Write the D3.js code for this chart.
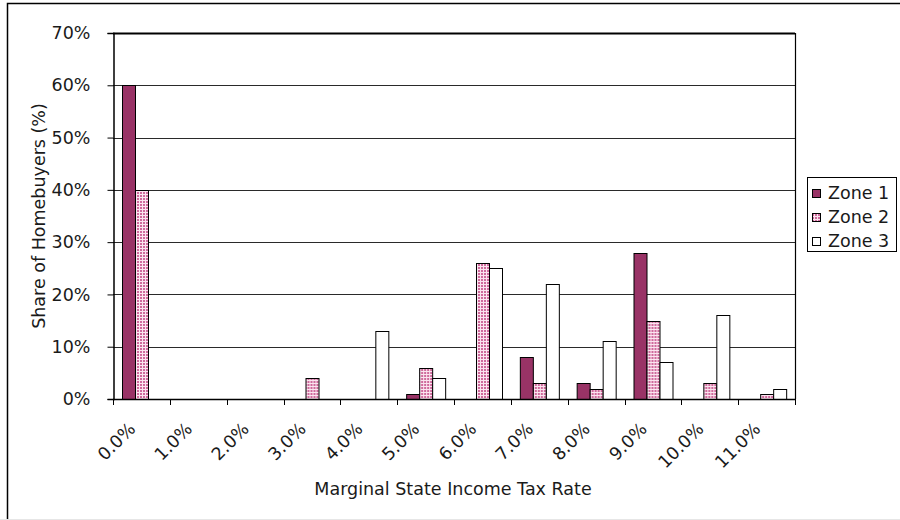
<!DOCTYPE html>
<html>
<head>
<meta charset="utf-8">
<script src="https://cdn.jsdelivr.net/npm/d3@7"></script>
<style>
  html, body { margin: 0; padding: 0; background: #ffffff; }
  svg text { font-family: "DejaVu Sans", Verdana, sans-serif; fill: #1a1a1a; }
</style>
</head>
<body>
<svg id="chart" width="900" height="520"></svg>
<script>
// Marginal state income tax rate buckets
const categories = ["0.0%", "1.0%", "2.0%", "3.0%", "4.0%", "5.0%", "6.0%", "7.0%", "8.0%", "9.0%", "10.0%", "11.0%"];
const zones = ["Zone 1", "Zone 2", "Zone 3"];
// Share of homebuyers (%) per bucket
const zone1 = [60, 0, 0, 0, 0, 1, 0, 8, 3, 28, 0, 0];
const zone2 = [40, 0, 0, 4, 0, 6, 26, 3, 2, 15, 3, 1];
const zone3 = [0, 0, 0, 0, 13, 4, 25, 22, 11, 7, 16, 2];
const yTicks = [0, 10, 20, 30, 40, 50, 60, 70];

const seriesValues = [zone1, zone2, zone3];

const W = 900, H = 520;
const plot = { left: 113, right: 795, top: 33, bottom: 399 };
const FS = 17.5;

const svg = d3.select("#chart");

// dotted pink fill for Zone 2
const defs = svg.append("defs");
const pat = defs.append("pattern")
  .attr("id", "zone2pat")
  .attr("patternUnits", "userSpaceOnUse")
  .attr("width", 3).attr("height", 3);
pat.append("rect").attr("width", 3).attr("height", 3).attr("fill", "#fbe4ef");
pat.append("rect").attr("x", 0).attr("y", 0).attr("width", 2).attr("height", 2).attr("fill", "#cf6a9c");

const fills = ["#993366", "url(#zone2pat)", "#ffffff"];

// outer frame
svg.append("rect")
  .attr("x", 7.5).attr("y", 3.5)
  .attr("width", 1000).attr("height", 1000)
  .attr("fill", "#ffffff").attr("stroke", "#000").attr("stroke-width", 1.5);
svg.append("line")
  .attr("x1", 0).attr("x2", W).attr("y1", 519.5).attr("y2", 519.5)
  .attr("stroke", "#e6e6e6").attr("stroke-width", 1);

const x0 = d3.scaleBand().domain(categories).range([plot.left, plot.right]).paddingInner(0).paddingOuter(0);
const x1 = d3.scaleBand().domain(zones).range([0, x0.bandwidth()]).paddingInner(0).paddingOuter(0.69);
const y = d3.scaleLinear().domain([0, 70]).range([plot.bottom, plot.top]);

// horizontal gridlines
svg.append("g")
  .selectAll("line")
  .data(yTicks.filter(t => t > 0 && t < 70))
  .join("line")
  .attr("x1", plot.left).attr("x2", plot.right)
  .attr("y1", d => Math.round(y(d)) + 0.5).attr("y2", d => Math.round(y(d)) + 0.5)
  .attr("stroke", "#2a2a2a").attr("stroke-width", 1.1);

// plot area border: top and right
svg.append("line")
  .attr("x1", plot.left).attr("x2", plot.right)
  .attr("y1", plot.top + 0.5).attr("y2", plot.top + 0.5)
  .attr("stroke", "#000").attr("stroke-width", 2);
svg.append("line")
  .attr("x1", plot.right + 0.5).attr("x2", plot.right + 0.5)
  .attr("y1", plot.top).attr("y2", plot.bottom)
  .attr("stroke", "#000").attr("stroke-width", 1.2);

// bars
const groups = svg.append("g")
  .selectAll("g")
  .data(categories)
  .join("g")
  .attr("transform", d => `translate(${x0(d)},0)`);

groups.selectAll("rect")
  .data((c, i) => zones.map((z, k) => ({ zone: z, k, value: seriesValues[k][i] })))
  .join("rect")
  .filter(d => d.value > 0)
  .attr("x", d => Math.round(x1(d.zone)) + 0.5)
  .attr("y", d => Math.round(y(d.value)) + 0.5)
  .attr("width", Math.round(x1.bandwidth()))
  .attr("height", d => Math.round(y(0)) - Math.round(y(d.value)))
  .attr("fill", d => fills[d.k])
  .attr("stroke", "#000").attr("stroke-width", 1);

// y axis
const yAxis = d3.axisLeft(y)
  .tickValues(yTicks)
  .tickSize(6)
  .tickPadding(17)
  .tickFormat(d => d + "%");
const gy = svg.append("g")
  .attr("transform", `translate(${plot.left + 0.5},0)`)
  .call(yAxis);
gy.select(".domain").attr("stroke", "#000").attr("stroke-width", 1.5);
gy.selectAll(".tick line").attr("stroke", "#000");
gy.selectAll(".tick text")
  .attr("font-family", "DejaVu Sans")
  .attr("font-size", FS).attr("fill", "#1a1a1a");

// x axis: ticks at bucket boundaries
const boundaries = d3.range(categories.length + 1).map(i => plot.left + i * x0.step());
svg.append("line")
  .attr("x1", plot.left).attr("x2", plot.right + 1)
  .attr("y1", plot.bottom + 0.5).attr("y2", plot.bottom + 0.5)
  .attr("stroke", "#000").attr("stroke-width", 1.5);
svg.append("g").selectAll("line")
  .data(boundaries)
  .join("line")
  .attr("x1", d => Math.round(d) + 0.5).attr("x2", d => Math.round(d) + 0.5)
  .attr("y1", plot.bottom).attr("y2", plot.bottom + 6)
  .attr("stroke", "#000").attr("stroke-width", 1);

// rotated category labels
svg.append("g").selectAll("text")
  .data(categories)
  .join("text")
  .attr("transform", d => `translate(${x0(d) + x0.bandwidth() / 2 - 5},${plot.bottom + 31}) rotate(-45)`)
  .attr("text-anchor", "end")
  .attr("font-size", FS)
  .text(d => d);

// axis titles
svg.append("text")
  .attr("x", (plot.left + plot.right) / 2 - 1)
  .attr("y", 495)
  .attr("text-anchor", "middle")
  .attr("font-size", FS)
  .text("Marginal State Income Tax Rate");

svg.append("text")
  .attr("transform", `translate(45,${(plot.top + plot.bottom) / 2}) rotate(-90)`)
  .attr("text-anchor", "middle")
  .attr("font-size", FS)
  .text("Share of Homebuyers (%)");

// legend
const legend = svg.append("g");
legend.append("rect")
  .attr("x", 807.5).attr("y", 177.5)
  .attr("width", 89).attr("height", 74)
  .attr("fill", "#fff").attr("stroke", "#000").attr("stroke-width", 1);
const items = legend.selectAll("g.item")
  .data(zones)
  .join("g")
  .attr("class", "item")
  .attr("transform", (d, i) => `translate(812,${193 + i * 24})`);
items.append("rect")
  .attr("x", 0.5).attr("y", -3.5)
  .attr("width", 8).attr("height", 8)
  .attr("fill", (d, i) => fills[i])
  .attr("stroke", "#000").attr("stroke-width", 1);
items.append("text")
  .attr("x", 16).attr("y", 6)
  .attr("font-size", FS)
  .text(d => d);
</script>
</body>
</html>
